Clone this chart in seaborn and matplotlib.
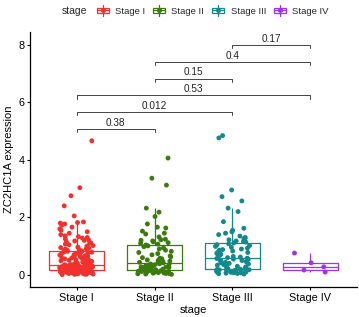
import numpy as np
import pandas as pd
import matplotlib
matplotlib.use("Agg")
import matplotlib.pyplot as plt
import seaborn as sns
from matplotlib.patches import Patch, Rectangle
from matplotlib.lines import Line2D
from matplotlib.legend_handler import HandlerBase

# ---------------- data ----------------
categories = ["Stage I", "Stage II", "Stage III", "Stage IV"]
colors = ["#F0312D", "#3B7A0C", "#11898D", "#9A33F5"]

stage1 = [0.01, 0.02, 0.02, 0.03, 0.03, 0.04, 0.04, 0.05, 0.05, 0.06,
          0.06, 0.07, 0.07, 0.08, 0.08, 0.08, 0.09, 0.09, 0.10, 0.10,
          0.11, 0.11, 0.11, 0.12, 0.12, 0.12, 0.13, 0.13, 0.13, 0.14,
          0.14, 0.14, 0.15, 0.15, 0.15, 0.15, 0.16, 0.16, 0.16, 0.16,
          0.17, 0.18, 0.18, 0.19, 0.19, 0.20, 0.20, 0.21, 0.21, 0.22,
          0.22, 0.23, 0.23, 0.24, 0.24, 0.25, 0.25, 0.26, 0.26, 0.27,
          0.27, 0.28, 0.28, 0.29, 0.29, 0.30, 0.30, 0.31, 0.31, 0.32,
          0.32, 0.32, 0.33, 0.33, 0.33, 0.34, 0.34, 0.34, 0.35, 0.35,
          0.35, 0.36, 0.37, 0.38, 0.39, 0.40, 0.41, 0.43, 0.44, 0.45,
          0.46, 0.47, 0.49, 0.50, 0.51, 0.52, 0.53, 0.55, 0.56, 0.57,
          0.58, 0.59, 0.61, 0.62, 0.63, 0.65, 0.66, 0.67, 0.69, 0.70,
          0.72, 0.73, 0.75, 0.76, 0.78, 0.79, 0.80, 0.82, 0.83, 0.85,
          0.86, 0.88, 0.90, 0.91, 0.93, 0.95, 0.97, 1.00, 1.02, 1.05,
          1.07, 1.10, 1.12, 1.15, 1.18, 1.20, 1.22, 1.25, 1.28, 1.30,
          1.33, 1.36, 1.40, 1.45, 1.50, 1.55, 1.60, 1.66, 1.73, 1.77,
          1.80, 1.82, 1.84, 2.05, 2.40, 2.75, 3.03, 4.66]

stage2 = [0.02, 0.03, 0.04, 0.05, 0.05, 0.06, 0.07, 0.08, 0.08, 0.09,
          0.10, 0.10, 0.11, 0.12, 0.12, 0.13, 0.14, 0.15, 0.15, 0.16,
          0.17, 0.17, 0.18, 0.19, 0.20, 0.21, 0.22, 0.23, 0.24, 0.25,
          0.26, 0.27, 0.28, 0.29, 0.30, 0.32, 0.33, 0.35, 0.36, 0.38,
          0.39, 0.41, 0.42, 0.44, 0.46, 0.48, 0.50, 0.52, 0.54, 0.56,
          0.58, 0.60, 0.63, 0.66, 0.70, 0.74, 0.78, 0.82, 0.86, 0.90,
          0.94, 0.98, 1.01, 1.04, 1.07, 1.10, 1.12, 1.15, 1.18, 1.20,
          1.22, 1.24, 1.32, 1.42, 1.45, 1.52, 1.63, 1.66, 1.77, 2.03,
          2.18, 2.32, 3.12, 3.36, 4.06]

stage3 = [0.03, 0.04, 0.05, 0.06, 0.07, 0.08, 0.09, 0.10, 0.10, 0.11,
          0.12, 0.13, 0.14, 0.15, 0.15, 0.16, 0.17, 0.18, 0.18, 0.19,
          0.20, 0.20, 0.22, 0.24, 0.26, 0.28, 0.30, 0.32, 0.34, 0.36,
          0.38, 0.40, 0.42, 0.44, 0.46, 0.48, 0.50, 0.52, 0.54, 0.55,
          0.57, 0.58, 0.60, 0.62, 0.64, 0.66, 0.68, 0.70, 0.72, 0.74,
          0.76, 0.78, 0.80, 0.83, 0.86, 0.88, 0.90, 0.93, 0.96, 0.99,
          1.02, 1.05, 1.08, 1.11, 1.14, 1.16, 1.18, 1.22, 1.26, 1.28,
          1.30, 1.35, 1.40, 1.45, 1.50, 1.55, 1.62, 1.85, 2.20, 2.32,
          2.57, 2.72, 2.95, 4.76, 4.84]

stage4 = [0.10, 0.17, 0.28, 0.42, 0.76]

comparisons = [("Stage I", "Stage II", "0.38"),
               ("Stage I", "Stage III", "0.012"),
               ("Stage I", "Stage IV", "0.53"),
               ("Stage II", "Stage III", "0.15"),
               ("Stage II", "Stage IV", "0.4"),
               ("Stage III", "Stage IV", "0.17")]
bracket_y = [5.07, 5.66, 6.24, 6.82, 7.40, 7.99]

y_ticks = [0, 2, 4, 6, 8]

# ---------------- build frame ----------------
vals = [stage1, stage2, stage3, stage4]
df = pd.DataFrame({
    "stage": np.concatenate([[c] * len(v) for c, v in zip(categories, vals)]),
    "expr": np.concatenate(vals),
})
df["stage"] = pd.Categorical(df["stage"], categories=categories, ordered=True)

sns.set_style("white")
plt.rcParams["font.family"] = ["Liberation Sans", "DejaVu Sans"]

fig = plt.figure(figsize=(3.59, 3.17), dpi=100)
ax = fig.add_axes([30 / 359, 1 - 287 / 317, (357 - 30) / 359, (287 - 32) / 317])

pal = dict(zip(categories, colors))
sns.boxplot(data=df, x="stage", y="expr", hue="stage", palette=pal,
            fill=False, width=0.7, showfliers=False, showcaps=False,
            linewidth=0.9, legend=False, ax=ax, order=categories,
            hue_order=categories)
np.random.seed(7)
sns.stripplot(data=df, x="stage", y="expr", hue="stage", palette=pal,
              jitter=0.22, size=3.5, linewidth=0, legend=False, ax=ax,
              order=categories, hue_order=categories, zorder=3)

# brackets
pos = {c: i for i, c in enumerate(categories)}
for (a, b, lab), yb in zip(comparisons, bracket_y):
    x1, x2 = pos[a], pos[b]
    ax.plot([x1, x1, x2, x2], [yb - 0.12, yb, yb, yb - 0.12],
            color="#444444", lw=0.7, zorder=4)
    ax.text((x1 + x2) / 2, yb + 0.04, lab, ha="center", va="bottom",
            fontsize=7.2, color="#222222")

ax.set_xlim(-0.6, 3.6)
ax.set_ylim(-0.42, 8.44)
ax.set_yticks(y_ticks)
ax.set_yticklabels([str(t) for t in y_ticks])
ax.set_xlabel("stage", fontsize=8, labelpad=2, color="black")
ax.set_ylabel("ZC2HC1A expression", fontsize=8, labelpad=3, color="black")
ax.tick_params(axis="both", which="both", labelsize=7.8, length=2.5,
               width=0.8, colors="black", direction="out", pad=1.5,
               bottom=True, left=True)
for s in ["top", "right"]:
    ax.spines[s].set_visible(False)
for s in ["left", "bottom"]:
    ax.spines[s].set_color("black")
    ax.spines[s].set_linewidth(0.9)


# legend with boxplot glyphs
class BoxHandler(HandlerBase):
    def create_artists(self, legend, orig_handle, xdescent, ydescent,
                       width, height, fontsize, trans):
        c = orig_handle.get_edgecolor()
        x0, y0 = -xdescent, -ydescent
        w, h = width, height * 1.25
        y0 = y0 - height * 0.125
        arts = []
        arts.append(Rectangle((x0 + 0.05 * w, y0 + 0.22 * h), 0.9 * w, 0.56 * h,
                              facecolor="white", edgecolor=c, lw=0.9,
                              transform=trans))
        arts.append(Line2D([x0 + w / 2, x0 + w / 2], [y0, y0 + 0.22 * h],
                           color=c, lw=0.9, transform=trans))
        arts.append(Line2D([x0 + w / 2, x0 + w / 2], [y0 + 0.78 * h, y0 + h],
                           color=c, lw=0.9, transform=trans))
        arts.append(Line2D([x0 + 0.05 * w, x0 + 0.95 * w], [y0 + h / 2, y0 + h / 2],
                           color=c, lw=0.9, transform=trans))
        arts.append(Line2D([x0 + w / 2], [y0 + h / 2], marker="o", ms=2.6,
                           color=c, lw=0, transform=trans))
        return arts


handles = [Patch(edgecolor=c, facecolor="white") for c in colors]
leg = fig.legend(handles, categories, handler_map={Patch: BoxHandler()},
                 loc="center left", bbox_to_anchor=(96 / 359, 1 - 11 / 317),
                 ncol=4, frameon=False, fontsize=6.8, handlelength=1.4,
                 handleheight=1.0, handletextpad=0.6, columnspacing=0.8,
                 borderpad=0, borderaxespad=0)
fig.text(62 / 359, 1 - 11 / 317, "stage", fontsize=7.5, ha="left", va="center")

fig.savefig("out.png", dpi=100)
